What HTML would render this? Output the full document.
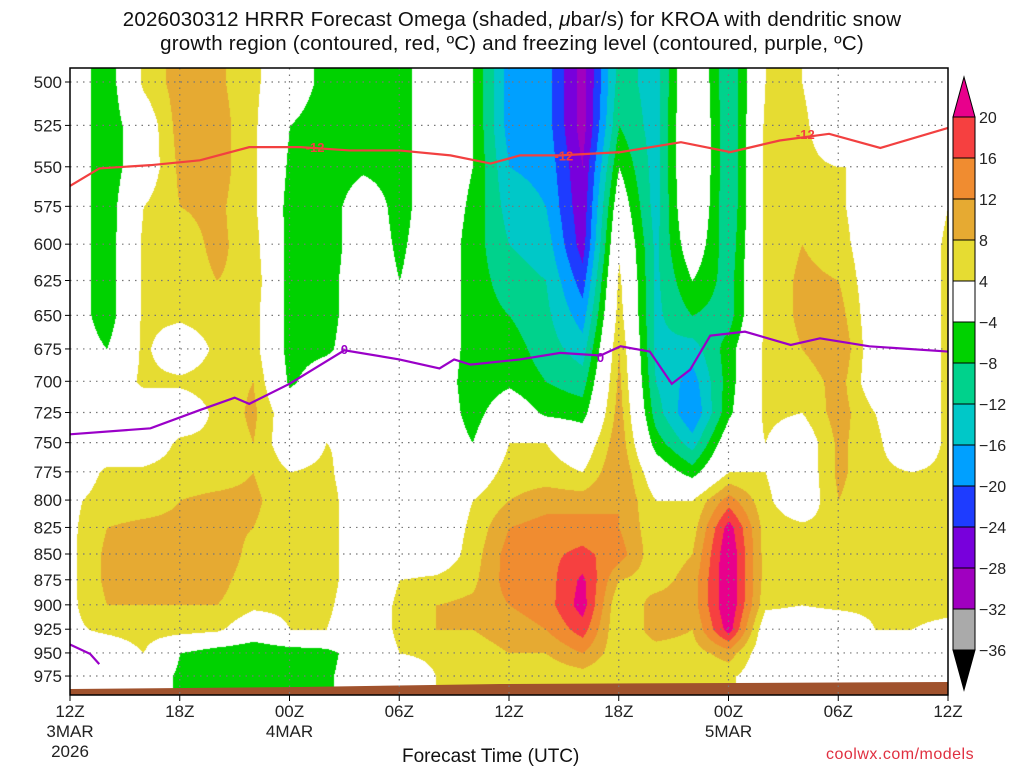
<!DOCTYPE html>
<html><head><meta charset="utf-8"><style>
body{margin:0;background:#fff;width:1024px;height:768px;overflow:hidden;font-family:"Liberation Sans",sans-serif}
svg{position:absolute;left:0;top:0}
canvas{position:absolute;left:70px;top:68px}
</style></head><body>
<canvas id="cv" width="878" height="627"></canvas>
<svg id="sv" width="1024" height="768"></svg>
<script>
const levels=[500,525,550,575,600,625,650,675,700,725,750,775,800,825,850,875,900,925,950,975];
const hours=[0,2,4,6,8,10,12,14,16,18,20,22,24,26,28,30,32,34,36,38,40,42,44,46,48];
const omega=[
[0,0,0,0,0,0,0,0,0,0,0,0,3,3,3,3,3,3,0,0],
[-7,-7,-7,-7,-7,-7,-7,-4,0,0,0,5,6,8,9,9,8,5,0,0],
[5,0,0,4,5,5,5,5,5,0,0,5,6,9,10,9,8,6,4,0],
[10,10,9,8,6,6,5,0,5,0,5,6,8,9,11,9,8,6,-4,-5],
[9,10,10,9,9,8,6,5,6,5,5,6,9,10,12,10,8,5,-7,-7],
[5,5,5,5,6,7,6,6,8,9,8,8,9,8,6,5,5,0,-8,-7],
[0,-4,-5,-6,-6,-6,-6,-6,-5,0,0,4,5,5,6,6,5,4,-7,-6],
[-6,-7,-7,-7,-7,-6,-6,-5,0,0,4,5,6,6,6,6,5,4,-6,-5],
[-6,-6,-5,0,0,0,0,0,3,4,3,0,0,0,0,0,0,0,0,0],
[-6,-6,-6,-6,-5,-4,0,0,0,0,0,0,0,0,0,4,5,5,4,0],
[0,0,0,0,0,0,0,0,0,0,0,0,0,0,0,5,8,8,5,4],
[-4,-4,-4,-5,-6,-6,-6,-6,-7,-6,-4,0,4,5,6,7,9,8,6,4],
[-18,-18,-16,-14,-12,-10,-8,-6,-5,0,4,6,8,12,14,14,12,10,8,5],
[-18,-18,-17,-16,-14,-12,-11,-10,-8,-5,4,6,10,14,15,14,14,12,8,5],
[-30,-30,-28,-27,-26,-22,-18,-14,-10,-6,0,4,10,14,17,21,22,18,12,6],
[-10,-8,-4,0,3,5,6,8,9,10,11,12,12,12,14,8,4,4,5,4],
[-14,-14,-14,-14,-13,-13,-13,-13,-12,-10,-6,0,4,5,5,6,10,10,6,4],
[3,4,4,3,0,-4,-8,-14,-18,-20,-14,-6,4,6,8,10,10,8,6,4],
[-12,-12,-12,-12,-11,-10,-10,-6,-6,-5,0,4,14,22,24,24,24,22,10,5],
[4,5,5,5,5,5,5,5,5,5,4,4,5,6,6,6,5,0,0,0],
[4,5,5,6,8,9,9,8,5,4,0,0,0,5,5,5,4,0,0,0],
[0,0,4,5,6,8,10,12,10,10,9,9,8,5,5,5,5,0,0,0],
[4,4,4,0,0,0,0,0,0,4,5,5,5,5,6,6,5,4,0,0],
[0,0,0,0,0,0,0,0,0,0,0,4,5,5,5,5,5,4,0,0],
[0,0,0,4,5,5,5,5,5,5,5,5,5,5,5,5,5,3,0,0]];
const dgzHours=[0,1.6,4.4,7.1,9.8,12.6,15.3,18,20.8,23,24.6,26.8,30.1,33.4,36.1,38.8,41.5,44.3,48];
const dgzPres=[562,551,549,546,538,538,540,540,543,548,543,543,541,535,541,534,530,538.5,526.5];
const frzHours=[0,4.4,7.1,9,9.8,12,15,18,20.2,21,21.9,24.6,26.8,29,30.1,31.7,32.9,33.9,35,36.9,39.4,41,43.7,48];
const frzPres=[743,738,723,713,718,702,676,683,690,683,687,683,678,680,673,677,702,691,665,662,672,667,673,677];
const frz2Hours=[0,1.1,1.6];
const frz2Pres=[941,951,962];
const cbLevels=[20,16,12,8,4,-4,-8,-12,-16,-20,-24,-28,-32,-36];
const cbColors=["#e8008c","#f64040","#f08c30","#e6aa32","#e6dc32","#ffffff","#00d200","#00d28c","#00c8c8","#00a0ff","#1e3cff","#7800dc","#a000c0","#aaaaaa","#000000"];
const pTicks=[500,525,550,575,600,625,650,675,700,725,750,775,800,825,850,875,900,925,950,975];
const tTicks=["12Z","18Z","00Z","06Z","12Z","18Z","00Z","06Z","12Z"];
const tSub=["3MAR","","4MAR","","","","5MAR","",""];

const X0=70,X1=948,YT=68,YB=695;
const xs=h=>X0+(X1-X0)*h/48;
const ys=p=>82+889.5*Math.log(p/500);
const NS="http://www.w3.org/2000/svg";
const sv=document.getElementById('sv');
function mk(tag,attrs,parent){const e=document.createElementNS(NS,tag);for(const k in attrs)e.setAttribute(k,attrs[k]);(parent||sv).appendChild(e);return e;}
function colorFor(v){
  for(let i=0;i<cbLevels.length;i++){if(v>=cbLevels[i])return i===5?null:cbColors[i];}
  return cbColors[14];
}
const cv=document.getElementById('cv'),ctx=cv.getContext('2d');
const img=ctx.createImageData(878,627);
function hex(c){return [parseInt(c.substr(1,2),16),parseInt(c.substr(3,2),16),parseInt(c.substr(5,2),16)];}
for(let py=0;py<627;py++){
  const y=YT+py;const p=500*Math.exp((y-82)/889.5);
  let fi=(p-levels[0])/25; if(fi<0)fi=0; if(fi>19)fi=19;
  const i0=Math.min(18,Math.floor(fi)),ti=fi-i0;
  for(let px=0;px<878;px++){
    const h=px/878*48;let fj=h/2;const j0=Math.min(23,Math.floor(fj)),tj=fj-j0;
    const v=(omega[j0][i0]*(1-tj)+omega[j0+1][i0]*tj)*(1-ti)+(omega[j0][i0+1]*(1-tj)+omega[j0+1][i0+1]*tj)*ti;
    const c=colorFor(v);const k=(py*878+px)*4;
    const rgb=c?hex(c):[255,255,255];
    img.data[k]=rgb[0];img.data[k+1]=rgb[1];img.data[k+2]=rgb[2];img.data[k+3]=255;
  }
}
ctx.putImageData(img,0,0);
const g=mk('polygon',{points:`${X0},695 ${X0},689 300,687 500,684 ${X1},682 ${X1},695`,fill:'#a0522d'});

pTicks.forEach(p=>{const l=mk('line',{x1:X0,x2:X1,y1:ys(p),y2:ys(p),stroke:'#777','stroke-dasharray':'1.5,5','stroke-width':1.2});
 
 const t=mk('text',{x:62,y:ys(p)+6,'text-anchor':'end','font-size':17,fill:'#222'});t.textContent=p;
 
 mk('line',{x1:X0-5,x2:X0,y1:ys(p),y2:ys(p),stroke:'#000'});});
tTicks.forEach((s,i)=>{const x=xs(i*6);
 if(i>0&&i<8){const l=mk('line',{x1:x,x2:x,y1:YT,y2:YB,stroke:'#777','stroke-dasharray':'1.5,5','stroke-width':1.2});}
 mk('line',{x1:x,x2:x,y1:YB,y2:YB+6,stroke:'#000'});
 const t=mk('text',{x:x,y:717,'text-anchor':'middle','font-size':17,fill:'#222'});t.textContent=s;
 
 if(tSub[i]){const t2=mk('text',{x:x,y:737,'text-anchor':'middle','font-size':17,fill:'#222'});t2.textContent=tSub[i];
 }});
const yr=mk('text',{x:70,y:757,'text-anchor':'middle','font-size':17,fill:'#222'});yr.textContent='2026';

function line(hs,ps,col,name){const pts=hs.map((h,i)=>xs(h)+','+ys(ps[i])).join(' ');
 const l=mk('polyline',{points:pts,fill:'none',stroke:col,'stroke-width':2.2});
 }
line(dgzHours,dgzPres,'#f24040','dgz-contour-minus12');
line(frzHours,frzPres,'#9a00c8','freezing-level-contour');
line(frz2Hours,frz2Pres,'#9a00c8','freezing-level-contour-low');
function lab(h,p,txt,col){
 const t=mk('text',{x:xs(h),y:ys(p)+5,'text-anchor':'middle','font-size':13,'font-weight':'bold',fill:col});t.textContent=txt;
 }
lab(13.4,538,'-12','#f24040');lab(27,543,'-12','#f24040');lab(40.2,530,'-12','#f24040');
lab(15,675,'0','#9a00c8');lab(29,681,'0','#9a00c8');
const fr=mk('rect',{x:X0,y:YT,width:X1-X0,height:YB-YT,fill:'none',stroke:'#000','stroke-width':1.5});

const cbX=953,cbW=22,cbTop=117,step=41;
const cbg=mk('g',{});
mk('polygon',{points:`${cbX},${cbTop} ${cbX+cbW/2},77 ${cbX+cbW},${cbTop}`,fill:cbColors[0],stroke:'#000'},cbg);
for(let i=1;i<14;i++){mk('rect',{x:cbX,y:cbTop+(i-1)*step,width:cbW,height:step,fill:cbColors[i],stroke:'#000'},cbg);}
mk('polygon',{points:`${cbX},${cbTop+13*step} ${cbX+cbW/2},690 ${cbX+cbW},${cbTop+13*step}`,fill:'#000',stroke:'#000'},cbg);
cbLevels.forEach((v,i)=>{const t=mk('text',{x:979,y:cbTop+i*step+6,'font-size':16,fill:'#222'},cbg);t.textContent=(v<0?'\u2212'+(-v):v);
 });
</script>
<div style="position:absolute;left:0;width:1024px;top:8px;text-align:center;font-size:20.5px;line-height:24px;color:#111;letter-spacing:0.2px">2026030312 HRRR Forecast Omega (shaded, <i>&mu;</i>bar/s) for KROA with dendritic snow<br>growth region (contoured, red, ºC) and freezing level (contoured, purple, ºC)</div>
<div style="position:absolute;left:402px;top:746px;font-size:19px;color:#111">Forecast Time (UTC)</div>
<div style="position:absolute;left:826px;top:746px;font-size:16px;color:#e03040;letter-spacing:0.5px">coolwx.com/models</div>
</body></html>
